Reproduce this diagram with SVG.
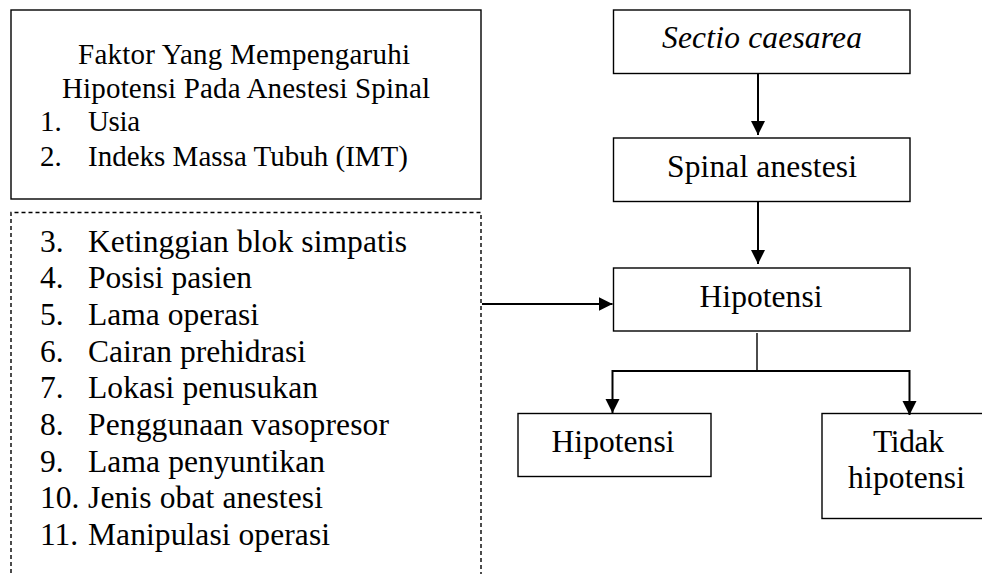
<svg xmlns="http://www.w3.org/2000/svg" width="982" height="574" viewBox="0 0 982 574">
<style>
.box{fill:#fff;stroke:#000;stroke-width:1.4}
.dash{fill:none;stroke:#000;stroke-width:1.4;stroke-dasharray:4 3}
.t{font-family:"Liberation Serif","Times New Roman",serif;font-size:31.5px;fill:#000}
.s{font-size:29px}
.c{text-anchor:middle}
.ln{fill:none;stroke:#000;stroke-width:2}
.thin{fill:none;stroke:#000;stroke-width:1.4}
</style>
<defs>
<marker id="ah" markerUnits="userSpaceOnUse" markerWidth="16" markerHeight="16" refX="14" refY="7" orient="auto">
<polygon points="0,0 14,7 0,14" fill="#000"/>
</marker>
</defs>
<g id="faktor">
<rect class="box" x="11" y="10" width="470" height="189"/>
<text class="t s c" x="244" y="64" textLength="332" lengthAdjust="spacing">Faktor Yang Mempengaruhi</text>
<text class="t s c" x="246" y="98" textLength="368" lengthAdjust="spacing">Hipotensi Pada Anestesi Spinal</text>
<text class="t s" x="40" y="131">1.</text><text class="t s" x="88" y="131" textLength="52" lengthAdjust="spacing">Usia</text>
<text class="t s" x="40" y="166">2.</text><text class="t s" x="88" y="166" textLength="320" lengthAdjust="spacing">Indeks Massa Tubuh (IMT)</text>
</g>
<g id="faktor-lain">
<polyline class="dash" points="11,580 11,212.5 481,212.5 481,580"/>
<text class="t" x="40" y="252">3.</text><text class="t" x="88" y="252" textLength="319" lengthAdjust="spacing">Ketinggian blok simpatis</text>
<text class="t" x="40" y="288">4.</text><text class="t" x="88" y="288" textLength="164" lengthAdjust="spacing">Posisi pasien</text>
<text class="t" x="40" y="325">5.</text><text class="t" x="88" y="325" textLength="171" lengthAdjust="spacing">Lama operasi</text>
<text class="t" x="40" y="362">6.</text><text class="t" x="88" y="362" textLength="218" lengthAdjust="spacing">Cairan prehidrasi</text>
<text class="t" x="40" y="398">7.</text><text class="t" x="88" y="398" textLength="230" lengthAdjust="spacing">Lokasi penusukan</text>
<text class="t" x="40" y="435">8.</text><text class="t" x="88" y="435" textLength="301" lengthAdjust="spacing">Penggunaan vasopresor</text>
<text class="t" x="40" y="472">9.</text><text class="t" x="88" y="472" textLength="237" lengthAdjust="spacing">Lama penyuntikan</text>
<text class="t" x="40" y="508">10.</text><text class="t" x="88" y="508" textLength="235" lengthAdjust="spacing">Jenis obat anestesi</text>
<text class="t" x="40" y="545">11.</text><text class="t" x="88" y="545" textLength="242" lengthAdjust="spacing">Manipulasi operasi</text>
</g>
<g id="sectio">
<rect class="box" x="613.5" y="10" width="296.5" height="63.5"/>
<text class="t c" x="762" y="48" font-style="italic" textLength="200" lengthAdjust="spacing">Sectio caesarea</text>
</g>
<g id="spinal">
<rect class="box" x="613.5" y="138" width="296.5" height="63.5"/>
<text class="t c" x="762" y="177" textLength="190" lengthAdjust="spacing">Spinal anestesi</text>
</g>
<g id="hipotensi-main">
<rect class="box" x="613.5" y="268" width="296.5" height="63"/>
<text class="t c" x="761" y="307" textLength="123" lengthAdjust="spacing">Hipotensi</text>
</g>
<g id="hipotensi">
<rect class="box" x="518" y="413.5" width="193" height="63"/>
<text class="t c" x="613" y="452" textLength="123" lengthAdjust="spacing">Hipotensi</text>
</g>
<g id="tidak-hipotensi">
<rect class="box" x="822" y="413.5" width="170" height="105"/>
<text class="t c" x="908.5" y="452" textLength="71" lengthAdjust="spacing">Tidak</text>
<text class="t c" x="906.5" y="488" textLength="117" lengthAdjust="spacing">hipotensi</text>
</g>
<g id="connectors">
<line class="ln" x1="758" y1="73.5" x2="758" y2="135" marker-end="url(#ah)"/>
<line class="ln" x1="758" y1="201.5" x2="758" y2="264" marker-end="url(#ah)"/>
<line class="ln" x1="482" y1="304" x2="612.5" y2="304" marker-end="url(#ah)"/>
<line class="thin" x1="757" y1="333" x2="757" y2="371"/>
<polyline class="ln" points="612.5,371 909.5,371 909.5,415" marker-end="url(#ah)"/>
<line class="ln" x1="612.5" y1="370" x2="612.5" y2="413" marker-end="url(#ah)"/>
</g>
</svg>
